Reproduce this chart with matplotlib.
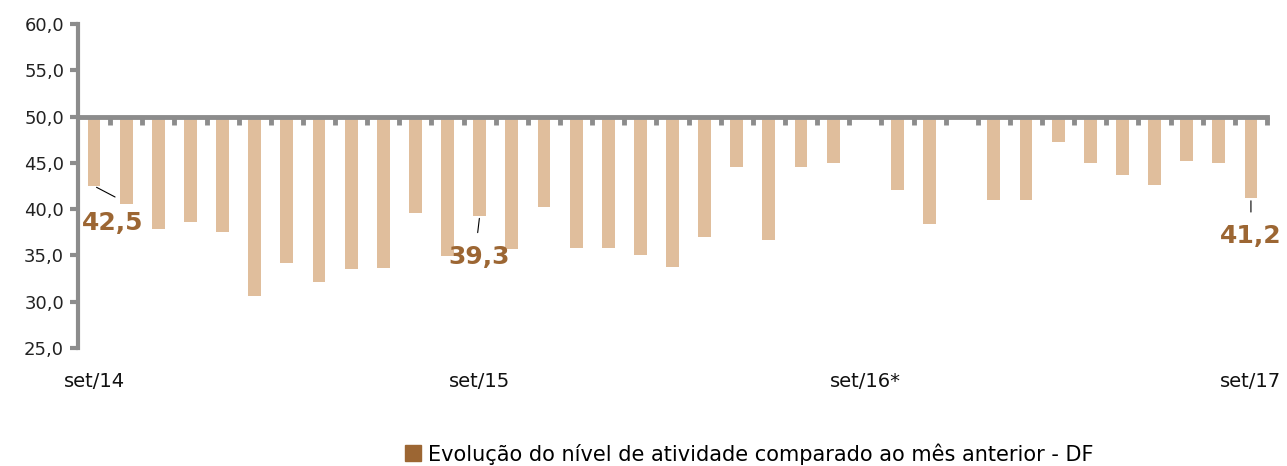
import numpy as np
import matplotlib.pyplot as plt
from matplotlib.patches import Patch
from matplotlib.transforms import blended_transform_factory

# valores (set/14 ... set/17), nan = mes sem dado
valores = [42.5, 40.6, 37.9, 38.6, 37.5, 30.6, 34.2, 32.1, 33.5, 33.6, 39.6, 34.9,
           39.3, 35.7, 40.2, 35.8, 35.8, 35.0, 33.8, 37.0, 44.6, 36.7, 44.6, 45.0,
           np.nan, 42.1, 38.4, np.nan, 41.0, 41.0, 47.3, 45.0, 43.7, 42.6, 45.2, 45.0,
           41.2]
rotulos_x = {0: 'set/14', 12: 'set/15', 24: 'set/16*', 36: 'set/17'}
# texto, deslocamento do texto, inicio e fim da linha guia (pixels)
destaques = {0: ('42,5', (19, -37), (-1, 0), (21, -11)),
             12: ('39,3', (-1, -41), (1, -2), (-2, -17)),
             36: ('41,2', (0, -38), (0, 0), (0, -14))}
legenda = 'Evolução do nível de atividade comparado ao mês anterior - DF'

cor_barra = '#E0BE9C'
cor_rotulo = '#9C6633'
cinza = '#8C8C8C'

x = np.arange(len(valores))
v = np.array(valores)

fig = plt.figure(figsize=(12.87, 4.66), dpi=100)
ax = fig.add_axes([78/1287, 1-348/466, (1267-78)/1287, 324/466])

ax.bar(x, v - 50, bottom=50, width=0.4, color=cor_barra, label=legenda)

ax.set_xlim(-0.5, len(valores) - 0.5)
ax.set_ylim(25, 60)
ax.set_yticks(np.arange(25, 61, 5))
ax.set_yticklabels(['{:.1f}'.format(t).replace('.', ',') for t in np.arange(25, 61, 5)],
                   fontsize=13, color='#222222')

for s in ['top', 'right']:
    ax.spines[s].set_visible(False)
ax.spines['left'].set_color(cinza)
ax.spines['left'].set_linewidth(3)
ax.spines['bottom'].set_position(('data', 50))
ax.spines['bottom'].set_color(cinza)
ax.spines['bottom'].set_linewidth(3.5)
ax.spines['bottom'].set_zorder(3)

ax.tick_params(axis='y', direction='out', length=6, width=3, color=cinza, pad=4)
ax.set_xticks([])
ax.set_xticks(np.arange(0.5, len(valores), 1), minor=True)
ax.tick_params(axis='x', which='minor', direction='out', length=6, width=3.5, color=cinza)

trans = blended_transform_factory(ax.transData, ax.transAxes)
for i, txt in rotulos_x.items():
    ax.text(i, -0.102, txt, transform=trans, ha='center', va='center',
            fontsize=14, color='#111111')

for i, (txt, pos, ini, fim) in destaques.items():
    ax.annotate(txt, xy=(i, valores[i]), xytext=(pos[0] * 0.72, pos[1] * 0.72),
                textcoords='offset points', ha='center', va='center',
                fontsize=18, fontweight='bold', color=cor_rotulo)
    ax.annotate('', xy=(i, valores[i]), xytext=(fim[0] * 0.72, fim[1] * 0.72),
                textcoords='offset points',
                arrowprops=dict(arrowstyle='-', color='black', lw=0.8,
                                shrinkA=0, shrinkB=2))

fig.legend(handles=[Patch(color=cor_rotulo, label=legenda)], loc='center',
           bbox_to_anchor=(0.582, 0.026), frameon=False, handlelength=0.8,
           handleheight=0.8, handletextpad=0.3, prop={'size': 15})

fig.savefig('out.png', dpi=100)
